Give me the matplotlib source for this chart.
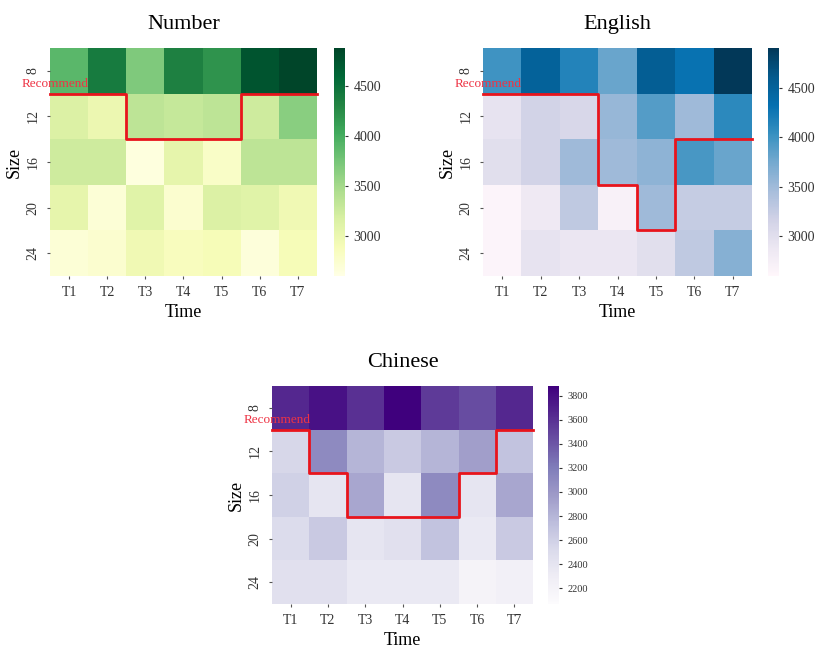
import matplotlib
matplotlib.use('Agg')
import matplotlib.pyplot as plt
import numpy as np

plt.rcParams['font.family'] = ['Liberation Serif', 'DejaVu Serif']

times = ['T1', 'T2', 'T3', 'T4', 'T5', 'T6', 'T7']
sizes = ['8', '12', '16', '20', '24']

number_vals = [
    [3900, 4400, 3700, 4350, 4200, 4750, 4880],
    [3150, 3000, 3350, 3300, 3350, 3250, 3650],
    [3250, 3250, 2650, 3050, 2800, 3350, 3350],
    [3050, 2700, 3100, 2750, 3150, 3100, 2950],
    [2700, 2750, 2950, 2850, 2900, 2680, 2900],
]
english_vals = [
    [4000, 4500, 4150, 3800, 4550, 4300, 4900],
    [2950, 3150, 3100, 3550, 3900, 3500, 4100],
    [3000, 3150, 3500, 3500, 3600, 3950, 3800],
    [2650, 2850, 3300, 2700, 3500, 3250, 3250],
    [2650, 2950, 2900, 2900, 3000, 3300, 3650],
]
chinese_vals = [
    [3650, 3780, 3600, 3880, 3550, 3450, 3650],
    [2550, 3100, 2800, 2650, 2800, 2950, 2700],
    [2600, 2400, 2900, 2400, 3100, 2400, 2900],
    [2500, 2650, 2400, 2450, 2700, 2350, 2650],
    [2450, 2450, 2350, 2350, 2350, 2200, 2250],
]

# number of rows above the red "Recommend" boundary for each time slot
number_rec = [1, 1, 2, 2, 2, 1, 1]
english_rec = [1, 1, 1, 3, 4, 2, 2]
chinese_rec = [1, 2, 3, 3, 3, 2, 1]


def draw_heat(fig, ax_rect, cb_rect, data, rec, cmap, title, vmin, vmax,
              cb_ticks, cb_font):
    ax = fig.add_axes(ax_rect)
    cax = fig.add_axes(cb_rect)
    data = np.array(data)
    mesh = ax.pcolormesh(data, cmap=cmap, vmin=vmin, vmax=vmax,
                         edgecolors='face', linewidth=0)
    ax.set_xlim(0, data.shape[1])
    ax.set_ylim(data.shape[0], 0)
    for s in ax.spines.values():
        s.set_visible(False)
    ax.set_xticks(np.arange(len(times)) + 0.5)
    ax.set_xticklabels(times, fontsize=10, color='#333333')
    ax.set_yticks(np.arange(len(sizes)) + 0.5)
    ax.set_yticklabels(sizes, fontsize=10, color='#333333', rotation=90,
                       va='center')
    ax.tick_params(length=2.5, width=0.8, color='#555555', pad=5)
    ax.set_xlabel('Time', fontsize=13, labelpad=3)
    ax.set_ylabel('Size', fontsize=13, labelpad=3)
    ax.set_title(title, fontsize=16, pad=14)

    # step line along the recommended boundary
    xs, ys = [], []
    for i, r in enumerate(rec):
        xs += [i, i + 1]
        ys += [r, r]
    ax.plot(xs, ys, color='#e8141c', lw=2, clip_on=False, zorder=5)
    ax.text(-0.75, 0.78, 'Recommend', color='#ee3344', fontsize=9.5,
            va='center', ha='left', clip_on=False, zorder=6)

    cb = fig.colorbar(mesh, cax=cax)
    cb.outline.set_visible(False)
    cb.set_ticks(cb_ticks)
    cb.ax.tick_params(labelsize=cb_font, length=2.5, colors='#333333')
    return ax


fig = plt.figure(figsize=(8.17, 6.51), dpi=100)

draw_heat(fig, [0.0612, 0.576, 0.3268, 0.3502], [0.4088, 0.576, 0.0135, 0.3502],
          number_vals, number_rec, 'YlGn', 'Number', 2600, 4880,
          [3000, 3500, 4000, 4500], 10)
draw_heat(fig, [0.5912, 0.576, 0.3293, 0.3502], [0.940, 0.576, 0.0135, 0.3502],
          english_vals, english_rec, 'PuBu', 'English', 2600, 4900,
          [3000, 3500, 4000, 4500], 10)
draw_heat(fig, [0.333, 0.0722, 0.3195, 0.3349], [0.6708, 0.0722, 0.0135, 0.3349],
          chinese_vals, chinese_rec, 'Purples', 'Chinese', 2070, 3880,
          [2200, 2400, 2600, 2800, 3000, 3200, 3400, 3600, 3800], 7.5)

fig.savefig('out.png', dpi=100)
